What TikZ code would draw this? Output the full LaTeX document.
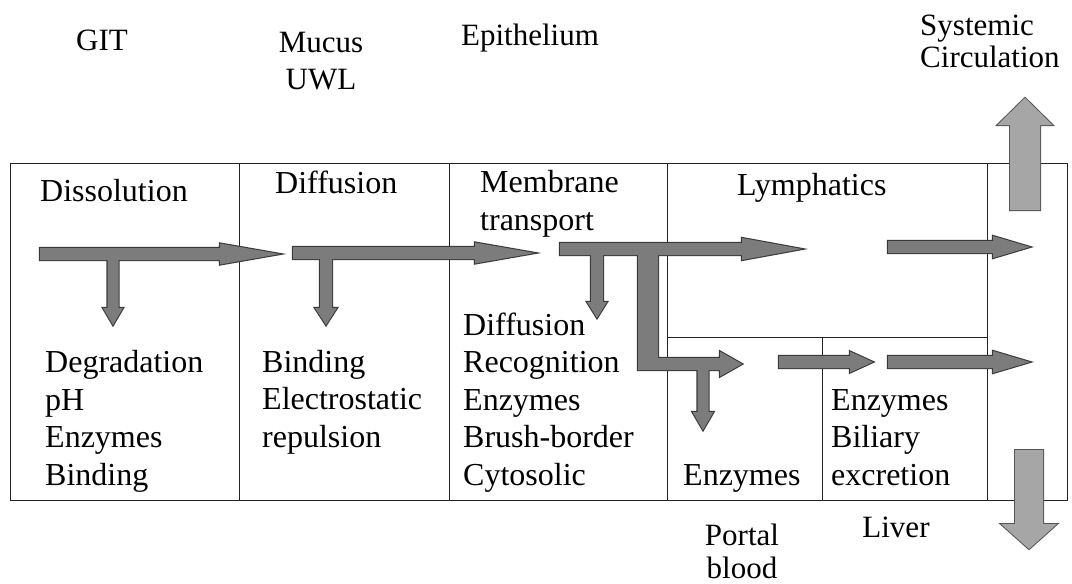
\documentclass[tikz,border=0pt]{standalone}
\usepackage{fontspec}
\setmainfont{Liberation Serif}
\definecolor{arrfill}{HTML}{7C7C7C}
\definecolor{arrline}{HTML}{3A3A3A}
\definecolor{bigfill}{HTML}{A6A6A6}
\definecolor{bigline}{HTML}{555555}
\definecolor{boxline}{HTML}{222222}
\tikzset{
  cellline/.style={draw=boxline, line width=1pt},
  lbl/.style={inner sep=0pt, font=\fontsize{32}{37.5}\selectfont, align=left, anchor=base west},
  toplbl/.style={inner sep=0pt, font=\fontsize{31}{37}\selectfont, anchor=base},
  outl/.style={draw=arrline, line width=2.2pt, line join=miter},
  fl/.style={fill=arrfill},
  boutl/.style={draw=bigline, line width=2pt},
  bfl/.style={fill=bigfill}
}
% right-pointing arrow: cmd, xstart, headbase, tip, y, shafthalf, headhalf
\newcommand\rarr[7]{#1 ({#2},{#5-#6}) -- ({#3},{#5-#6}) -- ({#3},{#5-#7}) -- ({#4},{#5}) -- ({#3},{#5+#7}) -- ({#3},{#5+#6}) -- ({#2},{#5+#6}) -- cycle;}
% vertical arrow: cmd, ystart, headbase, tip, x, shafthalf, headhalf
\newcommand\varr[7]{#1 ({#5-#6},{#2}) -- ({#5-#6},{#3}) -- ({#5-#7},{#3}) -- ({#5},{#4}) -- ({#5+#7},{#3}) -- ({#5+#6},{#3}) -- ({#5+#6},{#2}) -- cycle;}
\newcommand\gutarrows[1]{%
  \varr{#1}{256}{308}{325}{113}{5.5}{10}%
  \varr{#1}{256}{308}{325}{326}{6}{11}%
  \varr{#1}{252}{302}{318}{597}{6}{10}%
  \varr{#1}{366}{412}{430}{703}{5.5}{10.5}%
  \rarr{#1}{40}{220}{280}{254}{6}{10.5}%
  \rarr{#1}{293}{475}{535}{253}{6}{10.5}%
  \rarr{#1}{560}{742}{802}{249}{6}{11}%
  #1 (638,246) -- (658,246) -- (658,358) -- (720,358) -- (720,351.5) -- (742,364) -- (720,376.5) -- (720,370) -- (638,370) -- cycle;%
  \rarr{#1}{779}{850}{873}{362}{6}{10.5}%
  \rarr{#1}{888}{993}{1030}{362}{6}{11}%
  \rarr{#1}{888}{993}{1030}{247}{6}{11}%
}
\begin{document}
\begin{tikzpicture}[x=1pt,y=-1pt]
\useasboundingbox (0,0) rectangle (1072,584);
\fill[white] (0,0) rectangle (1072,584);

% cells
\draw[cellline] (10,163) rectangle (1067,500);
\draw[cellline] (239,163) -- (239,500);
\draw[cellline] (449,163) -- (449,500);
\draw[cellline] (667,163) -- (667,500);
\draw[cellline] (987,163) -- (987,500);
\draw[cellline] (667,337) -- (987,337);
\draw[cellline] (822,337) -- (822,500);

% top labels
\node[toplbl] (git) at (102,50) {GIT};
\node[toplbl] (mucus) at (321,52) {Mucus};
\node[toplbl] (uwl) at (321,89) {UWL};
\node[toplbl] (epi) at (530,45) {Epithelium};
\node[toplbl, anchor=base west] (sys) at (920,35) {Systemic};
\node[toplbl, anchor=base west] (circ) at (920,67) {Circulation};

% cell titles (base anchor = last line)
\node[lbl] (diss) at (40,201) {Dissolution};
\node[lbl] (diff) at (275,193) {Diffusion};
\node[lbl] (memb) at (480,230) {Membrane\\transport};
\node[lbl] (lymph) at (737,195) {Lymphatics};

% cell contents (base anchor = last line)
\node[lbl] (gitlist) at (45,485) {Degradation\\pH\\Enzymes\\Binding};
\node[lbl] (muclist) at (262,447) {Binding\\Electrostatic\\repulsion};
\node[lbl] (epilist) at (463,485) {Diffusion\\Recognition\\Enzymes\\Brush-border\\Cytosolic};
\node[lbl] (portenz) at (683,485) {Enzymes};
\node[lbl] (livlist) at (831,485) {Enzymes\\Biliary\\excretion};

% bottom labels
\node[toplbl] (portal) at (742,545) {Portal};
\node[toplbl] (blood) at (742,578) {blood};
\node[toplbl] (liver) at (896,537) {Liver};

% arrows: outlines then fills
\gutarrows{\draw[outl]}
\gutarrows{\fill[fl]}
\varr{\draw[boutl]}{210}{125}{98}{1025}{15}{27.5}
\varr{\fill[bfl]}{210}{125}{98}{1025}{15}{27.5}
\varr{\draw[boutl]}{450}{524}{549}{1029}{14}{28}
\varr{\fill[bfl]}{450}{524}{549}{1029}{14}{28}
\end{tikzpicture}
\end{document}
